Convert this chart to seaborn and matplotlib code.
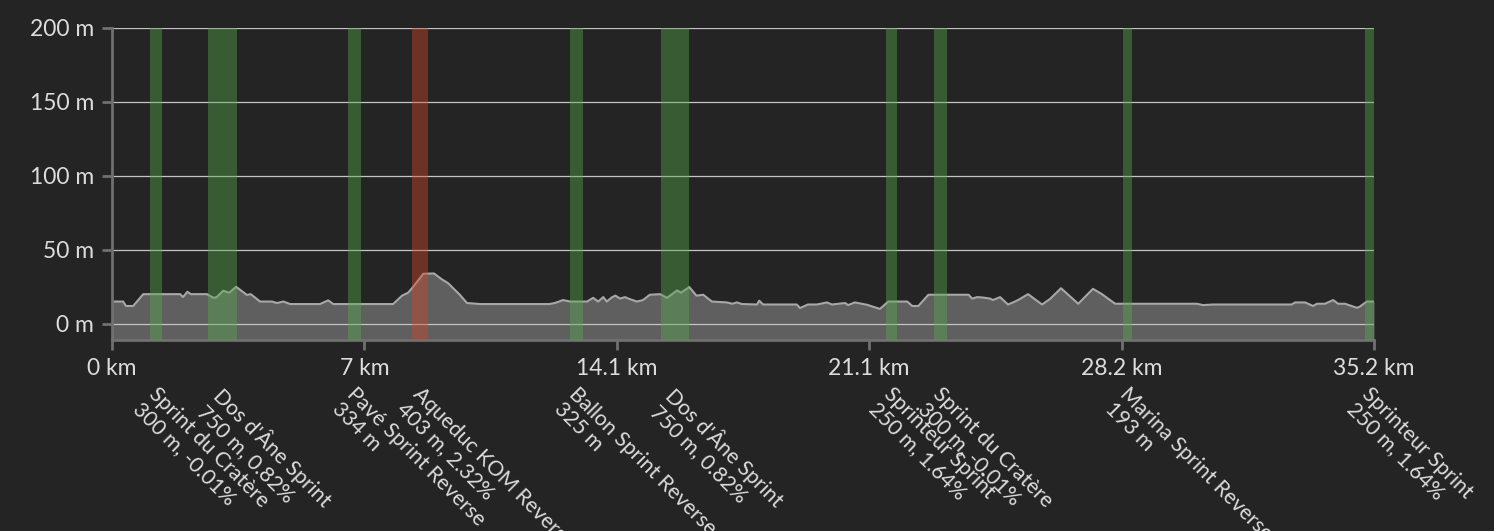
import numpy as np
import matplotlib
matplotlib.use("Agg")
import matplotlib.pyplot as plt
import matplotlib.transforms as mtransforms
import seaborn as sns

# elevation profile (km, m)
dist_km = [0, 0.31, 0.39, 0.59, 0.87, 1.90, 1.98, 2.10, 2.20, 2.65, 2.83, 2.92,
           3.10, 3.27, 3.46, 3.76, 3.87, 4.13, 4.46, 4.60, 4.78, 4.97, 5.80, 6.03,
           6.17, 7.84, 8.09, 8.26, 8.40, 8.68, 8.98, 9.20, 9.37, 9.70, 9.90, 10.27,
           12.20, 12.35, 12.58, 12.78, 13.14, 13.25, 13.42, 13.56, 13.70, 13.80,
           13.95, 14.04, 14.17, 14.31, 14.40, 14.64, 14.81, 15.00, 15.29, 15.48,
           15.76, 15.87, 16.10, 16.30, 16.49, 16.73, 17.15, 17.30, 17.43, 17.57,
           17.99, 18.05, 18.16, 19.10, 19.19, 19.41, 19.66, 19.94, 20.08, 20.45,
           20.53, 20.72, 21.06, 21.42, 21.65, 22.18, 22.32, 22.49, 22.77, 23.89,
           23.99, 24.13, 24.30, 24.49, 24.57, 24.77, 24.99, 25.13, 25.27, 25.55,
           25.94, 26.16, 26.47, 26.95, 27.36, 27.61, 27.98, 30.26, 30.43, 30.71,
           32.90, 33.00, 33.28, 33.50, 33.61, 33.83, 34.06, 34.20, 34.39, 34.72,
           34.80, 35.00, 35.20]
elev_m = [15, 15, 12, 12, 20, 20, 18, 21.6, 20, 20, 17.5, 18,
          22.3, 21, 25, 19.5, 20, 15, 15, 14, 15, 13.3, 13.3, 15.8,
          13.3, 13.3, 19, 21, 25, 33.8, 34, 30, 27.5, 19.6, 14, 13.3,
          13.3, 14, 16, 15, 15, 15, 17.5, 15, 18, 15,
          18, 19, 17, 18, 17, 15, 16, 19.6, 20, 17.5,
          22.5, 21, 24.8, 19, 19.6, 15, 14.4, 13.5, 14.4, 13.3,
          13, 15.6, 13, 13, 10.6, 13, 13, 14.4, 13, 14,
          12.6, 14.4, 12.8, 10, 15, 15, 12, 12, 19.6, 19.6,
          17, 18, 17.7, 17, 16, 18, 13, 14.4, 16, 20,
          13, 16.7, 24, 13.5, 23.6, 20, 13.5, 13.5, 12.6, 13,
          13, 14.4, 14.4, 12, 13.5, 13.5, 16, 13.5, 13.5, 10.8,
          11.5, 15, 15]

# segments along the route
seg_names = ["Sprint du Cratère", "Dos d'Âne Sprint", "Pavé Sprint Reverse",
             "Aqueduc KOM Reverse", "Ballon Sprint Reverse", "Dos d'Âne Sprint",
             "Sprinteur Sprint", "Sprint du Cratère", "Marina Sprint Reverse",
             "Sprinteur Sprint"]
seg_details = ["300 m, -0.01%", "750 m, 0.82%", "334 m", "403 m, 2.32%", "325 m",
               "750 m, 0.82%", "250 m, 1.64%", "300 m, -0.01%", "193 m",
               "250 m, 1.64%"]
seg_start = [1.06, 2.68, 6.58, 8.37, 12.78, 15.31, 21.59, 22.93, 28.20, 34.95]
seg_end = [1.39, 3.49, 6.95, 8.81, 13.14, 16.09, 21.90, 23.29, 28.45, 35.20]
seg_type = ["sprint", "sprint", "sprint", "kom", "sprint", "sprint",
            "sprint", "sprint", "sprint", "sprint"]

total_km = 35.2
x_tick_labels = ["0 km", "7 km", "14.1 km", "21.1 km", "28.2 km", "35.2 km"]
y_ticks = [0, 50, 100, 150, 200]

BG = "#242424"
AXIS = "#707070"
TEXT = "#dcdcdc"
seg_colors = {"sprint": "#56a84c", "kom": "#d3472a"}

sns.set_theme(style="dark", rc={
    "figure.facecolor": BG,
    "axes.facecolor": BG,
    "axes.edgecolor": AXIS,
    "savefig.facecolor": BG,
})
plt.rcParams["font.family"] = ["Lato", "DejaVu Sans"]

fig = plt.figure(figsize=(14.94, 5.31), dpi=100)
ax = fig.add_axes([0.0750, 0.3597, 0.8447, 0.5876])

bottom = -11
ax.fill_between(dist_km, elev_m, bottom, color="#5f5f5f", lw=0, zorder=1)
sns.lineplot(x=dist_km, y=elev_m, ax=ax, color="#a8a8a8", lw=1.5, zorder=2)

for s, e, t in zip(seg_start, seg_end, seg_type):
    ax.axvspan(s, e, color=seg_colors[t], alpha=0.42, lw=0, zorder=3)

ax.set_xlim(0, total_km)
ax.set_ylim(bottom, 200)
ax.set_xticks(np.linspace(0, total_km, len(x_tick_labels)))
ax.set_xticklabels(x_tick_labels)
ax.set_yticks(y_ticks)
ax.set_yticklabels([f"{v} m" for v in y_ticks])
ax.set_xlabel("")
ax.set_ylabel("")

ax.set_axisbelow("line")
ax.yaxis.grid(True, color="#c4c4c4", lw=0.9)
ax.xaxis.grid(False)

for side in ["top", "right"]:
    ax.spines[side].set_visible(False)
for side in ["left", "bottom"]:
    ax.spines[side].set_color(AXIS)
    ax.spines[side].set_linewidth(2)

ax.tick_params(axis="both", which="major", direction="out", length=7, width=2,
               color=AXIS, labelcolor=TEXT, labelsize=16.5, pad=6,
               bottom=True, left=True)

# rotated labels under each segment
trans = mtransforms.blended_transform_factory(ax.transData, ax.transAxes)
for name, det, s, e in zip(seg_names, seg_details, seg_start, seg_end):
    ax.text((s + e) / 2 + 0.08, -0.14, f"{name}\n{det}", transform=trans,
            rotation=-45, rotation_mode="anchor", ha="left", va="top",
            multialignment="left", fontsize=15.2, color=TEXT, linespacing=1.1)

fig.savefig("out.png", dpi=100, facecolor=BG)
